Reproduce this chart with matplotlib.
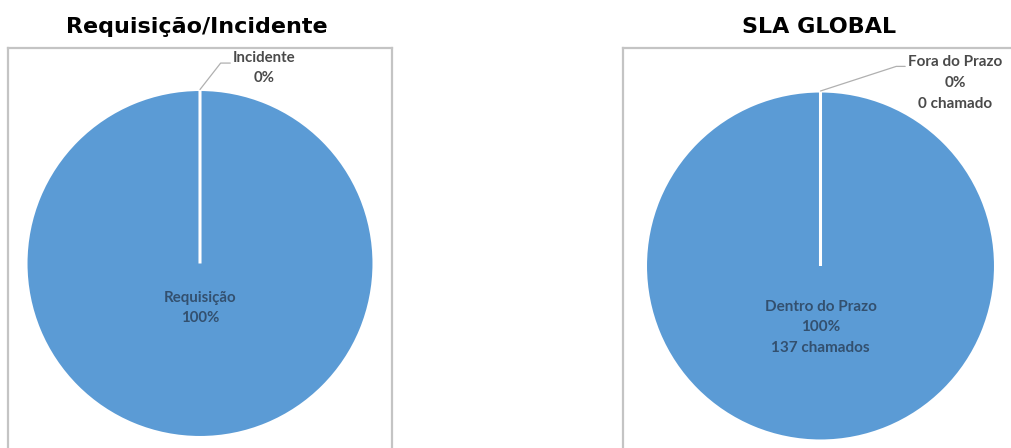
import numpy as np
import matplotlib
matplotlib.use("Agg")
import matplotlib.pyplot as plt

plt.rcParams['font.family'] = ['Lato', 'DejaVu Sans']

# dados
tipo_labels = ['Requisição', 'Incidente']
tipo_pct = [100, 0]

sla_labels = ['Dentro do Prazo', 'Fora do Prazo']
sla_chamados = [137, 0]

titulos = ['Requisição/Incidente', 'SLA GLOBAL']

azul = '#5b9bd5'
borda = '#c4c4c4'
W, H = 1011, 448

fig = plt.figure(figsize=(W / 100, H / 100), dpi=100)


def moldura(x0, x1, y_top):
    ax = fig.add_axes([x0 / W, -0.1, (x1 - x0) / W, 1 - y_top / H + 0.1])
    ax.set_xticks([])
    ax.set_yticks([])
    for s in ax.spines.values():
        s.set_color(borda)
        s.set_linewidth(1.6)
    return ax


def eixo_pizza(cx, cy, r):
    return fig.add_axes([(cx - r) / W, (H - cy - r) / H, 2 * r / W, 2 * r / H])


def pizza(ax, valores):
    ax.pie(valores, colors=[azul, azul], startangle=90, counterclock=False,
           wedgeprops=dict(edgecolor='white', linewidth=2.2))
    ax.set_xlim(-1, 1)
    ax.set_ylim(-1, 1)
    ax.set_aspect('equal')
    ax.axis('off')


moldura(8, 392, 48)
moldura(623, 1030, 48)

# --- Requisição / Incidente
ax1 = eixo_pizza(200, 263.5, 174)
pizza(ax1, tipo_pct)
p1 = [100 * v / sum(tipo_pct) for v in tipo_pct]
ax1.text(0, -0.255, f'{tipo_labels[0]}\n{p1[0]:.0f}%', ha='center', va='center',
         fontsize=10.8, fontweight='bold', color='#33506f', linespacing=1.5)
ax1.annotate(f'{tipo_labels[1]}\n{p1[1]:.0f}%', xy=(0, 1), xytext=(0.37, 1.123),
             ha='center', va='center', fontsize=10.8, fontweight='bold',
             color='#4a4a4a', linespacing=1.5, annotation_clip=False,
             arrowprops=dict(arrowstyle='-', color='#b0b0b0', lw=0.9,
                             shrinkA=0, shrinkB=0, relpos=(0, 0.65),
                             connectionstyle='angle,angleA=0,angleB=52,rad=0'))

# --- SLA GLOBAL
ax2 = eixo_pizza(820.5, 266, 175)
pizza(ax2, sla_chamados)
p2 = [100 * v / sum(sla_chamados) for v in sla_chamados]
ax2.text(0, -0.35, f'{sla_labels[0]}\n{p2[0]:.0f}%\n{sla_chamados[0]} chamados',
         ha='center', va='center', fontsize=11, fontweight='bold',
         color='#33506f', linespacing=1.6)
ax2.annotate(f'{sla_labels[1]}\n{p2[1]:.0f}%\n{sla_chamados[1]} chamado',
             xy=(0, 1), xytext=(0.769, 1.046),
             ha='center', va='center', fontsize=11, fontweight='bold',
             color='#4a4a4a', linespacing=1.6, annotation_clip=False,
             arrowprops=dict(arrowstyle='-', color='#b0b0b0', lw=0.9,
                             shrinkA=0, shrinkB=0, relpos=(0, 0.8),
                             connectionstyle='angle,angleA=0,angleB=18,rad=0'))

fig.text(197 / W, 1 - 33 / H, titulos[0], ha='center', va='baseline',
         fontsize=16, fontweight='bold', family='DejaVu Sans')
fig.text(819 / W, 1 - 33 / H, titulos[1], ha='center', va='baseline',
         fontsize=16, fontweight='bold', family='DejaVu Sans')

fig.savefig('out.png', dpi=100)
